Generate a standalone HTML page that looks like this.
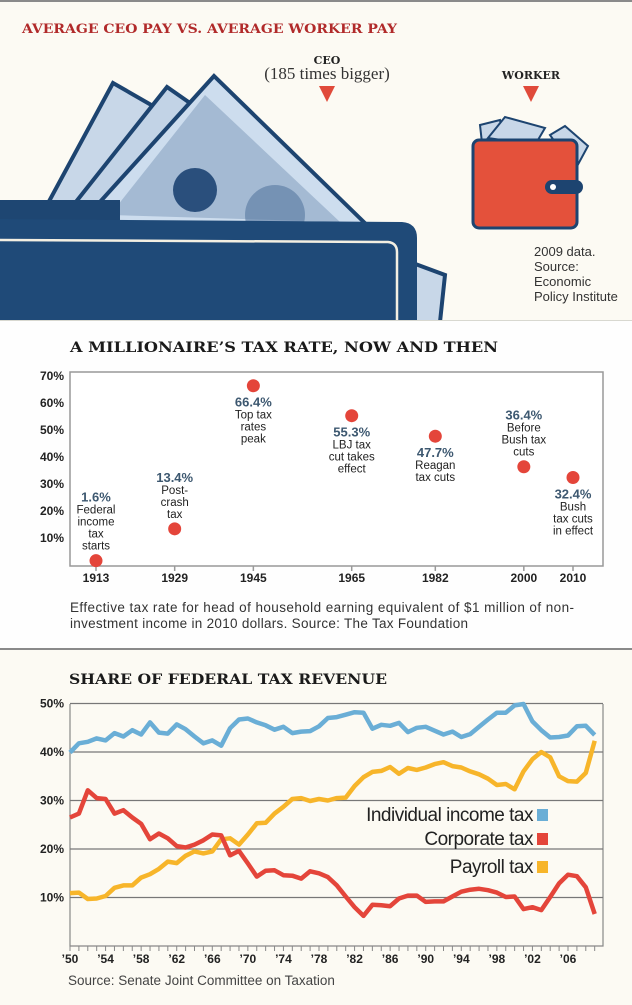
<!DOCTYPE html>
<html><head><meta charset="utf-8"><style>
html,body{margin:0;padding:0;background:#fcfaf3;}
svg{display:block;}
.ttl{font-family:"DejaVu Serif","Liberation Serif",serif;font-weight:bold;}
.sans{font-family:"Liberation Sans",sans-serif;}
</style></head><body>
<svg id="root" width="632" height="1005" viewBox="0 0 632 1005" xmlns="http://www.w3.org/2000/svg">
<rect x="0" y="0" width="632" height="1005" fill="#fcfaf3"/>
<rect x="0" y="0" width="632" height="2" fill="#8a8a8a"/>
<g>
<text class="ttl" x="22" y="33" font-size="13" fill="#b12a2a" textLength="375" lengthAdjust="spacingAndGlyphs">AVERAGE CEO PAY VS. AVERAGE WORKER PAY</text>
<text class="ttl" x="327" y="64" font-size="11" text-anchor="middle" fill="#222">CEO</text>
<text x="327" y="79" font-size="17" text-anchor="middle" fill="#333" font-family="Liberation Serif,serif">(185 times bigger)</text>
<polygon points="319,86 335,86 327,102" fill="#e04a3a"/>
<text class="ttl" x="531" y="79" font-size="11" text-anchor="middle" fill="#222">WORKER</text>
<polygon points="523,86 539,86 531,102" fill="#e04a3a"/>
<g>
<polygon points="113,83 40,218 240,225 160,110" fill="#c8d7e8" stroke="#1d4470" stroke-width="4"/>
<polygon points="167,87 60,222 320,226 200,110" fill="#c2d3e6" stroke="#1d4470" stroke-width="4"/>
<polygon points="214,76 80,224 372,230" fill="#cdddee" stroke="#1d4470" stroke-width="4"/>
<polygon points="205,95 110,215 340,222" fill="#7c97b8" opacity="0.5"/>
<circle cx="195" cy="190" r="22" fill="#2a4f7c"/>
<circle cx="275" cy="215" r="30" fill="#5678a0" opacity="0.6"/>
<polygon points="410,262 445,275 440,322 405,322" fill="#c8d7e8" stroke="#1d4470" stroke-width="4"/>
<rect x="0" y="200" width="120" height="30" fill="#1e4672"/>
<path d="M0,219 L402,222 Q417,223 417,238 L417,322 L0,322 Z" fill="#1f4a78"/>
<path d="M0,240 L388,242 Q397,243 397,252 L397,322" fill="none" stroke="#f3efe2" stroke-width="2.5"/>
</g>
<g>
<polygon points="480,125 500,120 505,143 482,143" fill="#c8d7e8" stroke="#1d4470" stroke-width="2"/>
<polygon points="488,138 505,117 545,128 535,145" fill="#c8d7e8" stroke="#1d4470" stroke-width="2"/>
<polygon points="550,135 565,126 588,146 575,170" fill="#c8d7e8" stroke="#1d4470" stroke-width="2"/>
<rect x="473" y="140" width="104" height="88" rx="6" fill="#e4513b" stroke="#1d4470" stroke-width="3"/>
<rect x="545" y="180" width="38" height="14" rx="7" fill="#1d4470"/>
<circle cx="553" cy="187" r="3" fill="#fff"/>
</g>
<g class="sans" font-size="13" fill="#333">
<text x="534" y="256">2009 data.</text>
<text x="534" y="271">Source:</text>
<text x="534" y="286">Economic</text>
<text x="534" y="301">Policy Institute</text>
</g>
</g>
<rect x="0" y="321" width="632" height="327" fill="#fefefe"/>
<rect x="0" y="320" width="632" height="1" fill="#d8d8d0"/>
<rect x="0" y="648" width="632" height="2" fill="#8a8a8a"/>
<text class="ttl" x="70" y="352" font-size="14" fill="#1a1a1a" textLength="428" lengthAdjust="spacingAndGlyphs">A MILLIONAIRE’S TAX RATE, NOW AND THEN</text>
<g id="chart1"></g>
<text class="sans" x="70" y="612" font-size="13.5" fill="#333" textLength="504">Effective tax rate for head of household earning equivalent of $1 million of non-</text>
<text class="sans" x="70" y="628" font-size="13.5" fill="#333" textLength="398">investment income in 2010 dollars. Source: The Tax Foundation</text>
<text class="ttl" x="69" y="684" font-size="13.5" fill="#1a1a1a" textLength="318" lengthAdjust="spacingAndGlyphs">SHARE OF FEDERAL TAX REVENUE</text>
<g id="chart2"></g>
<text class="sans" x="68" y="985" font-size="13.5" fill="#444">Source: Senate Joint Committee on Taxation</text>
</svg>
<script>
// Chart 1 data
var rateYears = [1913, 1929, 1945, 1965, 1982, 2000, 2010];
var rateValues = [1.6, 13.4, 66.4, 55.3, 47.7, 36.4, 32.4];
var rateNotes = [["Federal","income","tax","starts"],["Post-","crash","tax"],["Top tax","rates","peak"],["LBJ tax","cut takes","effect"],["Reagan","tax cuts"],["Before","Bush tax","cuts"],["Bush","tax cuts","in  effect"]];
var rateAbove = [true, true, false, false, false, true, false];
var rateTicks = [10, 20, 30, 40, 50, 60, 70];
// Chart 2 data
var revYears = [];
for (var yy = 1950; yy <= 2009; yy++) revYears.push(yy);
var individual = [39.9,41.8,42.1,42.8,42.4,43.9,43.2,44.5,43.6,46.1,44.0,43.8,45.7,44.7,43.2,41.8,42.4,41.3,44.9,46.7,46.9,46.1,45.5,44.6,45.2,43.9,44.2,44.3,45.3,47.0,47.2,47.7,48.2,48.1,44.8,45.6,45.4,46.0,44.1,45.0,45.2,44.4,43.6,44.2,43.1,43.7,45.2,46.7,48.1,48.1,49.6,49.9,46.3,44.5,43.0,43.1,43.4,45.3,45.4,43.5];
var corporate = [26.5,27.3,32.1,30.5,30.3,27.3,28.0,26.5,25.2,22.0,23.2,22.2,20.6,20.3,20.9,21.8,23.0,22.8,18.7,19.6,17.0,14.3,15.5,15.6,14.6,14.5,13.9,15.4,15.0,14.2,12.5,10.2,8.0,6.2,8.5,8.4,8.2,9.8,10.4,10.4,9.1,9.2,9.2,10.2,11.2,11.6,11.8,11.5,11.0,10.1,10.2,7.6,8.0,7.4,10.1,12.9,14.7,14.4,12.1,6.6];
var payroll = [10.9,11.0,9.7,9.8,10.3,12.0,12.5,12.5,14.1,14.8,15.9,17.4,17.1,18.6,19.5,19.1,19.5,22.0,22.2,20.9,23.0,25.3,25.4,27.3,28.7,30.3,30.5,29.9,30.3,30.0,30.5,30.6,33.0,34.8,35.9,36.1,36.9,35.5,36.7,36.3,36.8,37.5,37.9,37.1,36.8,36.0,35.4,34.5,33.2,33.4,32.3,36.0,38.5,40.0,38.9,35.0,34.0,33.9,35.7,42.3];
var revTicks = [10, 20, 30, 40, 50];
var revTickYears = [1950,1954,1958,1962,1966,1970,1974,1978,1982,1986,1990,1994,1998,2002,2006];
var legendNames = ["Individual income tax", "Corporate tax", "Payroll tax"];

var NS = "http://www.w3.org/2000/svg";
function mk(tag, attrs, parent, text) {
  var e = document.createElementNS(NS, tag);
  for (var k in attrs) e.setAttribute(k, attrs[k]);
  if (text !== undefined) e.textContent = text;
  parent.appendChild(e);
  return e;
}

// ---- chart 1
(function(){
  var g = document.getElementById("chart1");
  var L = 70, R = 603, T = 372, B = 566;
  function x(yr){ return 96 + (yr - 1913) * (573 - 96) / (2010 - 1913); }
  function y(v){ return 565 - v * 2.7; }
  var box = mk("rect", {x:L, y:T, width:R-L, height:B-T, fill:"#fff", stroke:"#999", "stroke-width":1.5}, g);
  
  
  rateTicks.forEach(function(t){
    var tx = mk("text", {x:64, y:y(t)+4, "text-anchor":"end", "font-size":12, "font-weight":"bold", fill:"#222", "font-family":"Liberation Sans,sans-serif"}, g, t + "%");
    
    
  });
  rateYears.forEach(function(yr, i){
    var cx = x(yr), cy = y(rateValues[i]);
    var tk = mk("line", {x1:cx, x2:cx, y1:B, y2:B+5, stroke:"#999", "stroke-width":1.5}, g);
    
    
    var yl = mk("text", {x:cx, y:582, "text-anchor":"middle", "font-size":12, "font-weight":"bold", fill:"#222", "font-family":"Liberation Sans,sans-serif"}, g, String(yr));
    
    
    var dot = mk("circle", {cx:cx, cy:cy, r:6.5, fill:"#e4453a"}, g);
    
    
    var notes = rateNotes[i];
    var py = rateAbove[i] ? cy - 15 - 12 * notes.length : cy + 17;
    var pt = mk("text", {x:cx, y:py+4, "text-anchor":"middle", "font-size":13, "font-weight":"bold", fill:"#3d5870", "font-family":"Liberation Sans,sans-serif"}, g, rateValues[i].toFixed(1) + "%");
    
    
    notes.forEach(function(n, j){
      var nt = mk("text", {x:cx, y:py + 4 + 12*(j+1), "text-anchor":"middle", "font-size":11.5, fill:"#222", "font-family":"Liberation Sans,sans-serif"}, g, n);
      
      
    });
  });
})();

// ---- chart 2
(function(){
  var g = document.getElementById("chart2");
  var L = 70, R = 603, T = 704, B = 946;
  function x(yr){ return 70 + (yr - 1950) * (568 - 70) / 56; }
  function y(v){ return 946 - v * 4.85; }
  var fr = mk("path", {d:"M"+L+","+T+" V"+B+" H"+R+" V"+T, fill:"none", stroke:"#888", "stroke-width":1.2}, g);
  
  
  revTicks.forEach(function(t){
    var gl = mk("line", {x1:L, x2:R, y1:y(t), y2:y(t), stroke:"#777", "stroke-width":1.2}, g);
    
    
    var tl = mk("text", {x:64, y:y(t)+4, "text-anchor":"end", "font-size":12, "font-weight":"bold", fill:"#222", "font-family":"Liberation Sans,sans-serif"}, g, t + "%");
    
    
  });
  revYears.forEach(function(yr){
    var tk = mk("line", {x1:x(yr), x2:x(yr), y1:B, y2:B+5, stroke:"#888", "stroke-width":1}, g);
    
    
  });
  revTickYears.forEach(function(yr){
    var lab = "\u2019" + String(yr).slice(2);
    var tl = mk("text", {x:x(yr), y:963, "text-anchor":"middle", "font-size":12, "font-weight":"bold", fill:"#222", "font-family":"Liberation Sans,sans-serif"}, g, lab);
    
    
  });
  var series = [individual, corporate, payroll];
  var colors = ["#6aaed6", "#e4453a", "#f7b52a"];
  var names = ["individual-income-line", "corporate-line", "payroll-line"];
  [2,1,0].forEach(function(s){
    var d = series[s].map(function(v, i){ return (i ? "L" : "M") + x(revYears[i]).toFixed(1) + "," + y(v).toFixed(1); }).join(" ");
    var p = mk("path", {d:d, fill:"none", stroke:colors[s], "stroke-width":4.5, "stroke-linejoin":"round"}, g);
    
    
  });
  var ly = [814, 838, 866];
  legendNames.forEach(function(n, i){
    var t = mk("text", {x:533, y:ly[i]+7, "text-anchor":"end", "font-size":19, fill:"#222", "font-family":"Liberation Sans,sans-serif", "letter-spacing":"-0.5"}, g, n);
    
    
    var r = mk("rect", {x:537, y:ly[i]-5, width:11, height:12, fill:colors[i]}, g);
    
    
  });
})();
</script>
</body></html>
